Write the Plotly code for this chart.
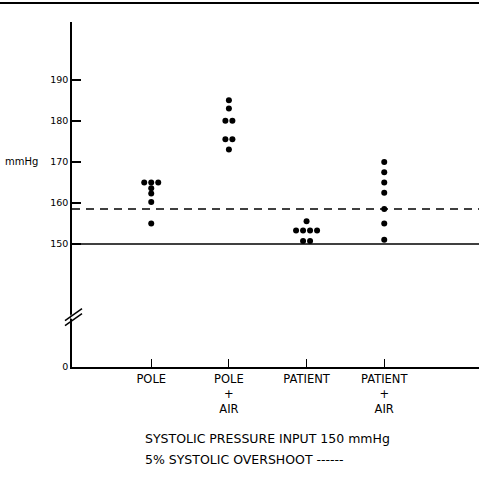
import plotly.graph_objects as go
from collections import Counter

# ---- data ----
categories = ["POLE", "POLE<br>+<br>AIR", "PATIENT", "PATIENT<br>+<br>AIR"]
pole = [165, 165, 165, 163.6, 162.3, 160.2, 155]
pole_air = [185, 183, 180, 180, 175.5, 175.5, 173]
patient = [155.5, 153.3, 153.3, 153.3, 153.3, 150.7, 150.7]
patient_air = [170, 167.5, 165, 162.5, 158.5, 155, 151]
series = [pole, pole_air, patient, patient_air]

input_pressure = 150        # solid line
overshoot_level = 158.5     # dashed line (5% systolic overshoot)
zero_position = 120         # where "0" sits on the broken axis
break_position = 132.5      # axis break marks
y_tick_values = [150, 160, 170, 180, 190]
y_top = 204.1

# ---- layout geometry ----
W, H = 479, 477
L, R, T, B = 72, 0, 22, 110
plot_w = W - L - R
plot_h = H - T - B
x_range = [-0.02, 5.22]
px_per_unit = plot_w / (x_range[1] - x_range[0])
tie_gap = 7 / px_per_unit

fig = go.Figure()
for i, vals in enumerate(series):
    counts = Counter(vals)
    seen = Counter()
    xs, ys = [], []
    for v in vals:
        n = counts[v]
        k = seen[v]
        seen[v] += 1
        xs.append(i + 1 + (k - (n - 1) / 2) * tie_gap)
        ys.append(v)
    fig.add_trace(go.Scatter(x=xs, y=ys, mode="markers",
                             marker=dict(color="black", size=6),
                             showlegend=False, hoverinfo="skip"))

font = "DejaVu Sans"
shapes = [
    # top border
    dict(type="line", xref="paper", yref="paper",
         x0=-L / plot_w, x1=1, y0=1 + (T - 3) / plot_h, y1=1 + (T - 3) / plot_h,
         line=dict(color="black", width=2)),
    # input pressure line
    dict(type="line", xref="paper", yref="y", x0=0, x1=1,
         y0=input_pressure, y1=input_pressure, line=dict(color="black", width=1.5)),
    # overshoot dashed line
    dict(type="line", xref="paper", yref="y", x0=0, x1=1,
         y0=overshoot_level, y1=overshoot_level,
         line=dict(color="black", width=1.5, dash="8px,6px")),
    # white gap in axis between break marks
    dict(type="line", xref="paper", yref="y",
         xsizemode="pixel", ysizemode="pixel",
         xanchor=0, yanchor=break_position,
         x0=0, x1=0, y0=-3, y1=1,
         line=dict(color="white", width=3)),
]
# axis break marks
for off in (0, 5):
    shapes.append(dict(type="line", xref="paper", yref="y",
                       xsizemode="pixel", ysizemode="pixel",
                       xanchor=0, yanchor=break_position,
                       x0=-7, x1=10, y0=-5 - off, y1=7 - off,
                       line=dict(color="black", width=1.5)))

fig.update_layout(
    width=W, height=H,
    margin=dict(l=L, r=R, t=T, b=B, pad=0),
    paper_bgcolor="white", plot_bgcolor="white",
    font=dict(family=font, color="black", size=10),
    xaxis=dict(range=x_range, showgrid=False, zeroline=False,
               showline=True, linecolor="black", linewidth=2,
               tickmode="array", tickvals=[1, 2, 3, 4], ticktext=categories,
               ticks="inside", ticklen=8, tickwidth=1.2, tickcolor="black",
               tickfont=dict(size=11.5, family=font)),
    yaxis=dict(range=[zero_position, y_top], showgrid=False, zeroline=False,
               showline=True, linecolor="black", linewidth=1.5,
               tickmode="array",
               tickvals=[zero_position] + y_tick_values,
               ticktext=["0"] + [str(v) for v in y_tick_values],
               ticks="inside", ticklen=9, tickwidth=1.5, tickcolor="black",
               tickfont=dict(size=9.5, family=font)),
    shapes=shapes,
    annotations=[
        dict(text="mmHg", xref="paper", yref="y", x=(3 - L) / plot_w, y=170,
             xanchor="left", yanchor="middle", showarrow=False,
             font=dict(size=10, family=font)),
        dict(text="SYSTOLIC PRESSURE INPUT 150 mmHg", xref="paper", yref="paper",
             x=(143 - L) / plot_w, y=-(439 - (T + plot_h)) / plot_h,
             xanchor="left", yanchor="middle", showarrow=False,
             font=dict(size=12.5, family=font)),
        dict(text="5% SYSTOLIC OVERSHOOT ------", xref="paper", yref="paper",
             x=(143 - L) / plot_w, y=-(459 - (T + plot_h)) / plot_h,
             xanchor="left", yanchor="middle", showarrow=False,
             font=dict(size=12.5, family=font)),
    ],
)

fig.write_html("out.html",
               config={"displayModeBar": False},
               post_script="document.body.style.margin='0px';document.body.style.overflow='hidden';")
